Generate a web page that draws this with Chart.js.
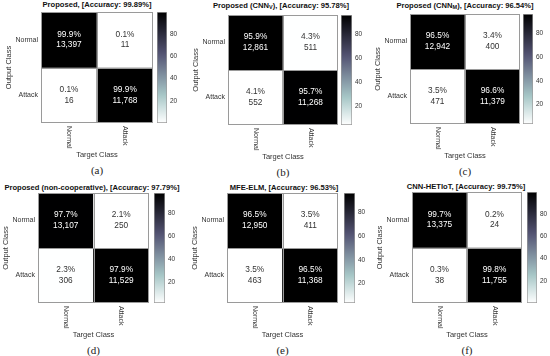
<!DOCTYPE html>
<html>
<head>
<meta charset="utf-8">
<script src="https://cdn.jsdelivr.net/npm/chart.js@4.4.0/dist/chart.umd.min.js"></script>
<style>
  body { margin: 0; background: #fff; width: 550px; height: 356px; position: relative; overflow: hidden;
         font-family: "Liberation Sans", Arial, sans-serif; }
  canvas { position: absolute; }
  .ttl { position: absolute; transform: translate(-50%, -50%); white-space: nowrap; font-weight: bold;
         font-size: 7.6px; color: #111; line-height: 1; }
  .ttl sub { font-size: 5.5px; vertical-align: -1px; }
  .cap { position: absolute; transform: translate(-50%, -50%); font-family: "Liberation Serif", "Times New Roman", serif;
         font-size: 11px; color: #222; line-height: 1; }
</style>
</head>
<body>
<script>
// class names and colorbar ticks
const classLabels = ['Normal', 'Attack'];
const colorbarTicks = [20, 40, 60, 80];

const panelTitles = [
  'Proposed, [Accuracy: 99.89%]',
  'Proposed (CNN<sub>V</sub>), [Accuracy: 95.78%]',
  'Proposed (CNN<sub>M</sub>), [Accuracy: 96.54%]',
  'Proposed (non-cooperative), [Accuracy: 97.79%]',
  'MFE-ELM, [Accuracy: 96.53%]',
  'CNN-HETIoT, [Accuracy: 99.75%]'
];
const panelCaptions = ['(a)', '(b)', '(c)', '(d)', '(e)', '(f)'];

// rows = output class, cols = target class
const pctProposed = [[99.9, 0.1], [0.1, 99.9]];
const cntProposed = [[13397, 11], [16, 11768]];
const pctCnnV = [[95.9, 4.3], [4.1, 95.7]];
const cntCnnV = [[12861, 511], [552, 11268]];
const pctCnnM = [[96.5, 3.4], [3.5, 96.6]];
const cntCnnM = [[12942, 400], [471, 11379]];
const pctNonCoop = [[97.7, 2.1], [2.3, 97.9]];
const cntNonCoop = [[13107, 250], [306, 11529]];
const pctMfeElm = [[96.5, 3.5], [3.5, 96.5]];
const cntMfeElm = [[12950, 411], [463, 11368]];
const pctHetiot = [[99.7, 0.2], [0.3, 99.8]];
const cntHetiot = [[13375, 24], [38, 11755]];

const percents = [pctProposed, pctCnnV, pctCnnM, pctNonCoop, pctMfeElm, pctHetiot];
const counts = [cntProposed, cntCnnV, cntCnnM, cntNonCoop, cntMfeElm, cntHetiot];

// layout of each panel: matrix box [left, top, right, bottom], colorbar x range, title centre
const boxes = [
  { m: [41, 12, 153, 123],  cb: [157, 167], t: [97, 5] },
  { m: [228, 15, 338, 125], cb: [341, 352], t: [281, 6] },
  { m: [410, 14, 520, 124], cb: [523, 533], t: [465, 6] },
  { m: [38, 193, 149, 303], cb: [154, 165], t: [92, 188] },
  { m: [227, 193, 338, 303], cb: [344, 355], t: [284, 188] },
  { m: [412, 192, 522, 303], cb: [527, 537], t: [466, 187] }
];

Chart.defaults.font.family = '"Liberation Sans", Arial, sans-serif';
Chart.defaults.color = '#333';

// MATLAB "bone" colormap, t in [0,1]
function bone(t) {
  const cl = v => Math.max(0, Math.min(1, v));
  const hr = cl(t / 0.375), hg = cl((t - 0.375) / 0.375), hb = cl((t - 0.75) / 0.25);
  const r = (7 * t + hb) / 8, g = (7 * t + hg) / 8, b = (7 * t + hr) / 8;
  return `rgb(${Math.round(r * 255)},${Math.round(g * 255)},${Math.round(b * 255)})`;
}

const matrixPlugin = {
  id: 'matrixText',
  afterDatasetsDraw(chart) {
    const { ctx, chartArea, scales } = chart;
    const { pct, cnt, lo, hi } = chart.options.plugins.matrixText;
    // cell frame
    ctx.save();
    ctx.strokeStyle = '#9a9a9a';
    ctx.lineWidth = 1;
    const xm = Math.round(scales.x.getPixelForValue(0.5)) + 0.5;
    const ym = Math.round(scales.y.getPixelForValue(1)) + 0.5;
    ctx.strokeRect(chartArea.left + 0.5, chartArea.top + 0.5, chartArea.width - 1, chartArea.height - 1);
    ctx.beginPath();
    ctx.moveTo(xm, chartArea.top); ctx.lineTo(xm, chartArea.bottom);
    ctx.moveTo(chartArea.left, ym); ctx.lineTo(chartArea.right, ym);
    ctx.stroke();
    // cell labels
    ctx.font = '8.3px "Liberation Sans", Arial, sans-serif';
    ctx.textAlign = 'center';
    ctx.textBaseline = 'middle';
    pct.forEach((row, i) => {
      const meta = chart.getDatasetMeta(i);
      row.forEach((v, j) => {
        const bar = meta.data[j];
        const cy = (bar.y + bar.base) / 2;
        const f = (v - lo) / (hi - lo);
        ctx.fillStyle = f > 0.5 ? '#ffffff' : '#333333';
        ctx.fillText(v.toFixed(1) + '%', bar.x, cy - 5.3);
        ctx.fillText(cnt[i][j].toLocaleString('en-US'), bar.x, cy + 5.3);
      });
    });
    ctx.restore();
  },
  afterDraw(chart) {
    // column labels, rotated clockwise under the matrix
    const { ctx, chartArea, scales } = chart;
    ctx.save();
    ctx.font = '7px "Liberation Sans", Arial, sans-serif';
    ctx.fillStyle = '#333';
    ctx.textAlign = 'left';
    ctx.textBaseline = 'middle';
    classLabels.forEach((lab, j) => {
      ctx.save();
      ctx.translate(scales.x.getPixelForValue(j), chartArea.bottom + 3);
      ctx.rotate(Math.PI / 2);
      ctx.fillText(lab, 0, 0);
      ctx.restore();
    });
    ctx.restore();
  }
};

function addCanvas(left, top, w, h) {
  const c = document.createElement('canvas');
  c.width = w; c.height = h;
  c.style.left = left + 'px'; c.style.top = top + 'px';
  c.style.width = w + 'px'; c.style.height = h + 'px';
  document.body.appendChild(c);
  return c;
}

function addText(cls, html, x, y) {
  const d = document.createElement('div');
  d.className = cls;
  d.innerHTML = html;
  d.style.left = x + 'px'; d.style.top = y + 'px';
  document.body.appendChild(d);
}

const axisFont = { size: 7.5 };
const yAxisW = 37, xAxisH = 36;

boxes.forEach((box, p) => {
  const [L, T, R, B] = box.m;
  const pct = percents[p], cnt = counts[p];
  const all = pct.flat();
  const lo = Math.min(...all), hi = Math.max(...all);

  const mc = addCanvas(L - yAxisW, T, yAxisW + (R - L) + 1, (B - T) + xAxisH);
  new Chart(mc, {
    type: 'bar',
    data: {
      labels: classLabels,
      datasets: pct.map((row, i) => ({
        data: row.map(() => [i, i + 1]),
        backgroundColor: row.map(v => bone(1 - (v - lo) / (hi - lo))),
        grouped: false,
        barPercentage: 1,
        categoryPercentage: 1,
        borderWidth: 0
      }))
    },
    options: {
      responsive: false,
      animation: false,
      events: [],
      layout: { padding: { left: 0, right: 1, top: 0, bottom: 0 } },
      plugins: {
        legend: { display: false },
        tooltip: { enabled: false },
        matrixText: { pct, cnt, lo, hi }
      },
      scales: {
        x: {
          grid: { display: false, drawTicks: false },
          border: { display: false },
          ticks: { display: false },
          title: { display: true, text: 'Target Class', padding: 0, font: axisFont, color: '#333' },
          afterFit: s => { s.height = xAxisH; s.paddingLeft = 0; s.paddingRight = 0; }
        },
        y: {
          min: 0, max: 2, reverse: true,
          grid: { display: false, drawTicks: false },
          border: { display: false },
          ticks: { padding: 3, font: { size: 7 }, color: '#333', callback: v => classLabels[Math.floor(v)] },
          afterBuildTicks: s => { s.ticks = classLabels.map((_, i) => ({ value: i + 0.5 })); },
          title: { display: true, text: 'Output Class', padding: 0, font: axisFont, color: '#333' },
          afterFit: s => { s.width = yAxisW; s.paddingTop = 0; s.paddingBottom = 0; }
        }
      }
    },
    plugins: [matrixPlugin]
  });

  // colorbar
  const [cbL, cbR] = box.cb;
  const cc = addCanvas(cbL, T, (cbR - cbL) + 16, B - T);
  new Chart(cc, {
    type: 'bar',
    data: {
      labels: [''],
      datasets: [{
        data: [[lo, hi]],
        backgroundColor: c => {
          const { chartArea, ctx } = c.chart;
          if (!chartArea) return '#ccc';
          const g = ctx.createLinearGradient(0, chartArea.bottom, 0, chartArea.top);
          for (let k = 0; k <= 20; k++) g.addColorStop(k / 20, bone(1 - k / 20));
          return g;
        },
        borderColor: '#9a9a9a',
        borderWidth: 1,
        borderSkipped: false,
        barPercentage: 1,
        categoryPercentage: 1
      }]
    },
    options: {
      responsive: false,
      animation: false,
      events: [],
      layout: { padding: 0 },
      plugins: { legend: { display: false }, tooltip: { enabled: false } },
      scales: {
        x: { display: false },
        y: {
          position: 'right',
          min: lo, max: hi,
          grid: { display: false, drawTicks: false },
          border: { display: false },
          ticks: { padding: 3, font: { size: 6.5 }, color: '#333' },
          afterBuildTicks: s => { s.ticks = colorbarTicks.map(v => ({ value: v })); },
          afterFit: s => { s.width = 16; s.paddingTop = 0; s.paddingBottom = 0; }
        }
      }
    }
  });

  addText('ttl', panelTitles[p], box.t[0], box.t[1]);
  addText('cap', panelCaptions[p], (L + R) / 2, B + 47);
});
</script>
</body>
</html>
